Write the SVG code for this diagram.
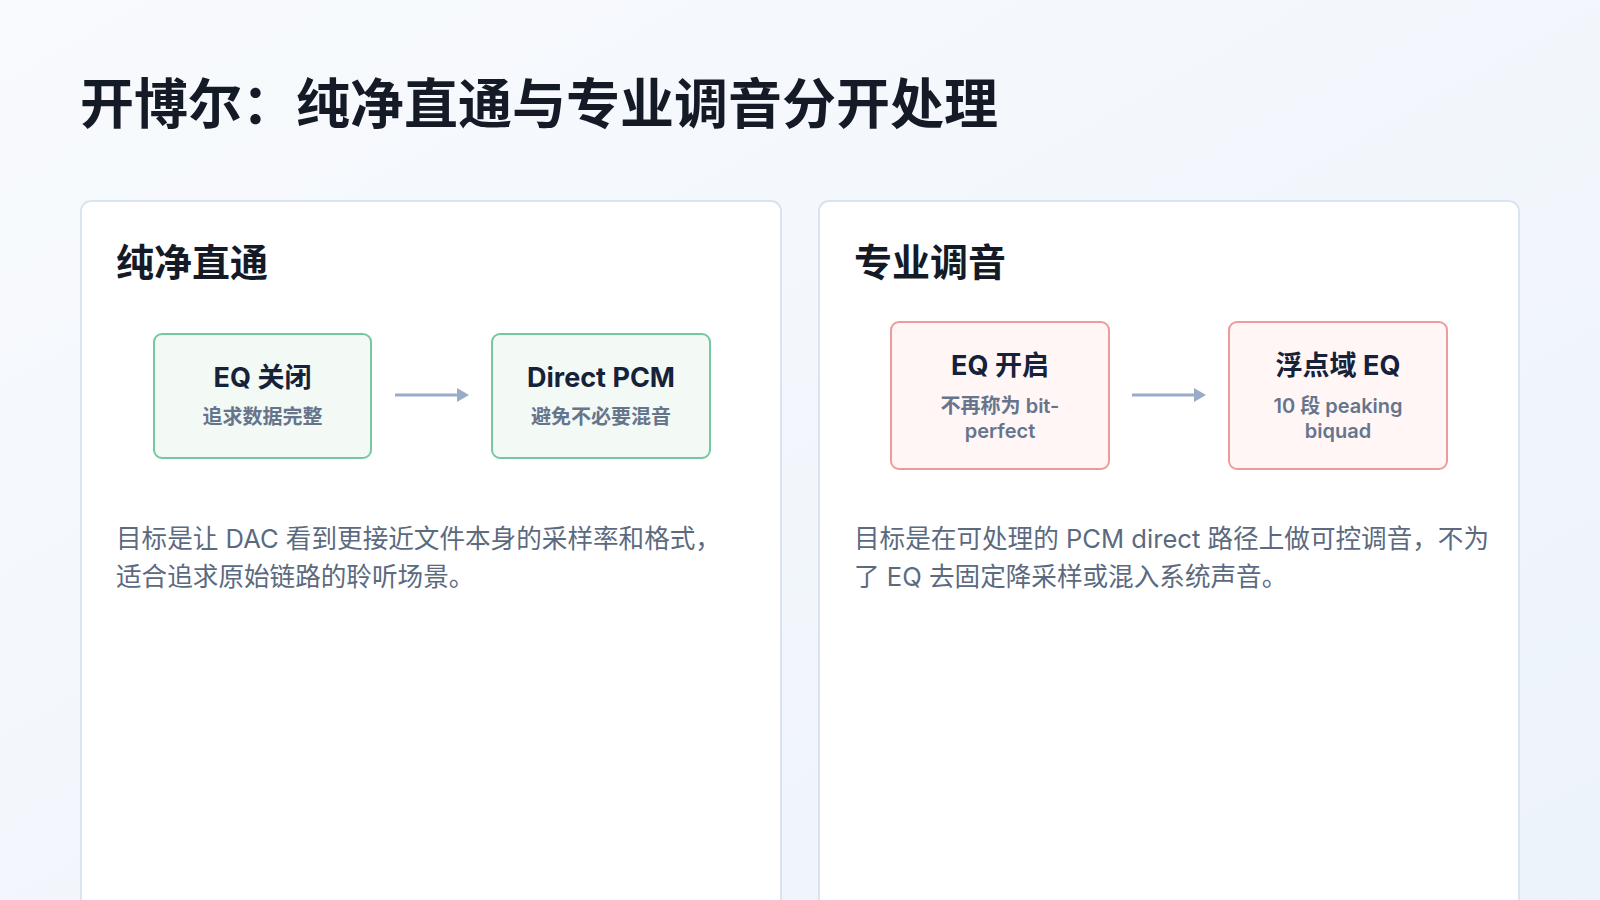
<svg xmlns="http://www.w3.org/2000/svg" width="1600" height="900" viewBox="0 0 1600 900">
<defs>
<linearGradient id="bg" x1="0" y1="0" x2="1" y2="1">
<stop offset="0" stop-color="#f8fafd"/>
<stop offset="1" stop-color="#edf3fb"/>
</linearGradient>
<marker id="ah" viewBox="0 0 12 14" refX="1" refY="7" markerWidth="12" markerHeight="14" markerUnits="userSpaceOnUse" orient="auto">
<path d="M0,0 L12,7 L0,14 Z" fill="#9aabc7"/>
</marker>
<style>
text{font-family:"Inter","Noto Sans CJK SC",sans-serif}
.title{font-size:54px;font-weight:700;fill:#141a26}
.card{fill:#ffffff;stroke:#dae4f0;stroke-width:2}
.h2{font-size:38px;font-weight:700;fill:#141a26}
.green{fill:#f3f9f5;stroke:#76c7a0;stroke-width:2}
.red{fill:#fff6f5;stroke:#ee9b9b;stroke-width:2}
.nt{font-size:27px;font-weight:700;fill:#16213a;text-anchor:middle}
.ns{font-size:20px;font-weight:600;fill:#66758c;text-anchor:middle}
.body{font-size:25.6px;fill:#5c6a80}
.conn{stroke:#9aabc7;stroke-width:3;fill:none}
</style>
</defs>
<rect width="1600" height="900" fill="url(#bg)"/>
<text class="title" x="80" y="124">开博尔：纯净直通与专业调音分开处理</text>

<g id="card-pure">
<rect class="card" x="81" y="201" width="700" height="760" rx="10"/>
<text class="h2" x="116" y="276">纯净直通</text>
<text class="body" x="116" y="548">目标是让 DAC 看到更接近文件本身的采样率和格式，</text>
<text class="body" x="116" y="586">适合追求原始链路的聆听场景。</text>
</g>

<g id="card-pro">
<rect class="card" x="819" y="201" width="700" height="760" rx="10"/>
<text class="h2" x="854" y="276">专业调音</text>
<text class="body" x="854" y="548">目标是在可处理的 PCM direct 路径上做可控调音，不为</text>
<text class="body" x="854" y="586">了 EQ 去固定降采样或混入系统声音。</text>
</g>

<g id="node-eq-off">
<rect class="green" x="154" y="334" width="217" height="124" rx="8"/>
<text class="nt" x="262.5" y="387">EQ 关闭</text>
<text class="ns" x="262.5" y="424">追求数据完整</text>
</g>

<g id="node-direct-pcm">
<rect class="green" x="492" y="334" width="218" height="124" rx="8"/>
<text class="nt" x="601" y="387">Direct PCM</text>
<text class="ns" x="601" y="424">避免不必要混音</text>
</g>

<g id="node-eq-on">
<rect class="red" x="891" y="322" width="218" height="147" rx="8"/>
<text class="nt" x="1000" y="375">EQ 开启</text>
<text class="ns" x="1000" y="413">不再称为 bit-</text>
<text class="ns" x="1000" y="438">perfect</text>
</g>

<g id="node-float-eq">
<rect class="red" x="1229" y="322" width="218" height="147" rx="8"/>
<text class="nt" x="1338" y="375">浮点域 EQ</text>
<text class="ns" x="1338" y="413">10 段 peaking</text>
<text class="ns" x="1338" y="438">biquad</text>
</g>

<g id="connectors">
<line class="conn" x1="395" y1="395" x2="458" y2="395" marker-end="url(#ah)"/>
<line class="conn" x1="1132" y1="395" x2="1195" y2="395" marker-end="url(#ah)"/>
</g>
</svg>
